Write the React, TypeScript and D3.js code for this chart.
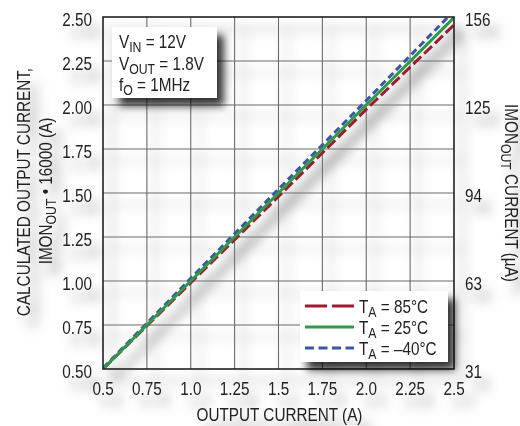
import { useEffect, useRef } from "react";
import * as d3 from "d3";

// output current (A)
const currents = [0.5, 1.0, 1.5, 2.0, 2.5];
// calculated output current, IMON_OUT * 16000 (A)
const t85 = [0.5, 0.99, 1.48, 1.975, 2.455];
const t25 = [0.5, 1.0, 1.5, 2.0, 2.497];
const tm40 = [0.505, 1.015, 1.522, 2.025, 2.535];

const xTicks = [0.5, 0.75, 1.0, 1.25, 1.5, 1.75, 2.0, 2.25, 2.5];
const xTickLabels = ["0.5", "0.75", "1.0", "1.25", "1.5", "1.75", "2.0", "2.25", "2.5"];
const yTicks = [0.5, 0.75, 1.0, 1.25, 1.5, 1.75, 2.0, 2.25, 2.5];
const imonTicks = [31.25, 62.5, 93.75, 125, 156.25];

const series = [
  { name: "85°C", values: t85, color: "#9e1b32", dash: "11,4", legDash: "22,5" },
  { name: "25°C", values: t25, color: "#2f9a48", dash: null, legDash: null },
  { name: "–40°C", values: tm40, color: "#3b56a5", dash: "7,4", legDash: "9,4.5" },
];

const FONT = "'Liberation Sans', Arial, sans-serif";
const SX = 0.85; // condensed look

type Part = [string, boolean?];

// draws horizontally condensed text; parts flagged true are subscripts
function ctext(parent: any, x: number, y: number, parts: Part[], opts: any = {}) {
  const size = opts.size ?? 18;
  const g = parent.append("g")
    .attr("transform", `translate(${x},${y}) rotate(${opts.rotate ?? 0}) scale(${SX},1)`);
  const t = g.append("text").attr("x", 0).attr("y", 0)
    .attr("text-anchor", opts.anchor ?? "start")
    .attr("font-size", size).attr("fill", "#222");
  let low = false;
  parts.forEach(([s, sub]) => {
    const ts = t.append("tspan").text(s);
    if (sub && !low) { ts.attr("dy", 4).attr("font-size", size * 0.8); low = true; }
    else if (!sub && low) { ts.attr("dy", -4); low = false; }
    else if (sub) ts.attr("font-size", size * 0.8);
  });
  return g;
}

export default function App() {
  const ref = useRef<SVGSVGElement>(null);

  useEffect(() => {
    const m = { left: 103, right: 454, top: 17, bottom: 369 };

    const svg = d3.select(ref.current);
    svg.selectAll("*").remove();

    const defs = svg.append("defs");
    const soft = defs.append("filter").attr("id", "soft").attr("x", "-20%").attr("y", "-20%").attr("width", "140%").attr("height", "140%");
    soft.append("feDropShadow").attr("dx", 9).attr("dy", 12).attr("stdDeviation", 6)
      .attr("flood-color", "#000").attr("flood-opacity", 0.42);
    const hard = defs.append("filter").attr("id", "hard").attr("x", "-30%").attr("y", "-30%").attr("width", "160%").attr("height", "160%");
    hard.append("feDropShadow").attr("dx", 7).attr("dy", 8).attr("stdDeviation", 4)
      .attr("flood-color", "#000").attr("flood-opacity", 0.8);
    defs.append("clipPath").attr("id", "plotclip").append("rect")
      .attr("x", m.left).attr("y", m.top).attr("width", m.right - m.left).attr("height", m.bottom - m.top);

    const x = d3.scaleLinear().domain([0.5, 2.5]).range([m.left, m.right]);
    const y = d3.scaleLinear().domain([0.5, 2.5]).range([m.bottom, m.top]);
    const yR = d3.scaleLinear().domain([31.25, 156.25]).range([m.bottom, m.top]);

    const g = svg.append("g").attr("filter", "url(#soft)").style("font-family", FONT);

    // grid
    g.append("g").selectAll("line").data(xTicks.slice(1, -1)).enter().append("line")
      .attr("x1", (d) => x(d)).attr("x2", (d) => x(d)).attr("y1", m.top).attr("y2", m.bottom)
      .attr("stroke", "#6b6b6b").attr("stroke-width", 1.1);
    g.append("g").selectAll("line").data(yTicks.slice(1, -1)).enter().append("line")
      .attr("y1", (d) => y(d)).attr("y2", (d) => y(d)).attr("x1", m.left).attr("x2", m.right)
      .attr("stroke", "#6b6b6b").attr("stroke-width", 1.1);

    // lines (red, blue dashes first, green on top)
    const lg = g.append("g").attr("clip-path", "url(#plotclip)");
    const line = d3.line<number>().x((_, i) => x(currents[i])).y((d) => y(d));
    [0, 2, 1].forEach((k) => {
      const s = series[k];
      lg.append("path").attr("d", line(s.values)).attr("fill", "none")
        .attr("stroke", s.color).attr("stroke-width", 3)
        .attr("stroke-dasharray", s.dash);
    });

    // frame
    g.append("rect").attr("x", m.left).attr("y", m.top).attr("width", m.right - m.left)
      .attr("height", m.bottom - m.top).attr("fill", "none").attr("stroke", "#222").attr("stroke-width", 1.6);

    // tick labels
    yTicks.forEach((d) => ctext(g, m.left - 11, y(d) + 9, [[d3.format(".2f")(d)]], { anchor: "end" }));
    xTicks.forEach((d, i) => ctext(g, x(d), m.bottom + 26, [[xTickLabels[i]]], { anchor: "middle" }));
    imonTicks.forEach((d) => ctext(g, m.right + 11, yR(d) + 9, [[d3.format(".0f")(d)]]));

    // axis titles
    ctext(g, (m.left + m.right) / 2 + 1, 421, [["OUTPUT CURRENT (A)"]], { anchor: "middle" });
    ctext(g, 30, 192, [["CALCULATED OUTPUT CURRENT,"]], { anchor: "middle", rotate: -90 });
    ctext(g, 52, 191, [["IMON"], ["OUT", true], [" • 16000 (A)"]], { anchor: "middle", rotate: -90 });
    ctext(g, 505, 193, [["IMON"], ["OUT", true], [" CURRENT (µA)"]], { anchor: "middle", rotate: 90 });

    // conditions box
    const cb = svg.append("g").style("font-family", FONT);
    cb.append("rect").attr("x", 112).attr("y", 27).attr("width", 105).attr("height", 71)
      .attr("fill", "#fff").attr("filter", "url(#hard)");
    const cond: Part[][] = [
      [["V"], ["IN", true], [" = 12V"]],
      [["V"], ["OUT", true], [" = 1.8V"]],
      [["f"], ["O", true], [" = 1MHz"]],
    ];
    cond.forEach((c, i) => ctext(cb, 119, 48 + i * 21.5, c));

    // legend
    const leg = svg.append("g").style("font-family", FONT);
    leg.append("rect").attr("x", 300).attr("y", 291).attr("width", 148).attr("height", 71)
      .attr("fill", "#fff").attr("filter", "url(#hard)");
    series.forEach((s, i) => {
      const base = 313 + i * 21;
      leg.append("line").attr("x1", 305).attr("x2", 354).attr("y1", base - 7).attr("y2", base - 7)
        .attr("stroke", s.color).attr("stroke-width", 3)
        .attr("stroke-dasharray", s.legDash);
      ctext(leg, 359, base, [["T"], ["A", true], [" = " + s.name]]);
    });
  }, []);

  return (
    <svg
      ref={ref}
      width={520}
      height={426}
      style={{ position: "absolute", left: 0, top: 0, background: "#fff" }}
    />
  );
}
